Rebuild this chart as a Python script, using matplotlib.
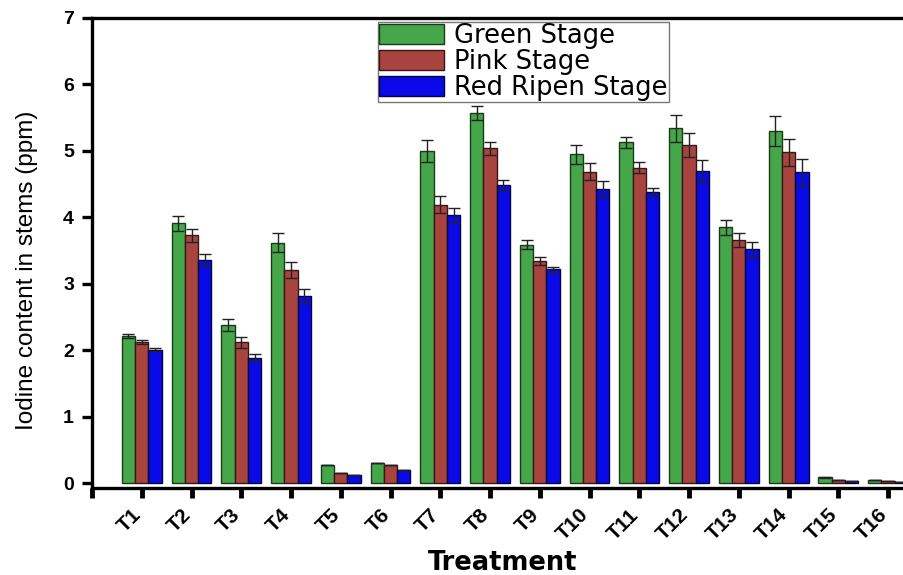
import matplotlib.pyplot as plt
import numpy as np

treatments = ["T%d" % i for i in range(1, 17)]
green = [2.21, 3.91, 2.38, 3.62, 0.27, 0.31, 5.00, 5.57, 3.59, 4.95, 5.13, 5.34, 3.85, 5.30, 0.09, 0.05]
green_err = [0.03, 0.11, 0.09, 0.14, 0.0, 0.0, 0.16, 0.11, 0.07, 0.14, 0.08, 0.20, 0.11, 0.22, 0.01, 0.0]
pink = [2.12, 3.73, 2.12, 3.21, 0.16, 0.27, 4.19, 5.04, 3.35, 4.69, 4.75, 5.09, 3.66, 4.98, 0.05, 0.03]
pink_err = [0.03, 0.10, 0.08, 0.12, 0.0, 0.0, 0.13, 0.10, 0.06, 0.13, 0.08, 0.18, 0.11, 0.20, 0.0, 0.0]
red = [2.01, 3.36, 1.89, 2.82, 0.12, 0.20, 4.03, 4.49, 3.22, 4.43, 4.38, 4.70, 3.52, 4.68, 0.03, 0.02]
red_err = [0.02, 0.09, 0.05, 0.10, 0.0, 0.0, 0.11, 0.07, 0.04, 0.12, 0.06, 0.16, 0.11, 0.20, 0.0, 0.0]

plt.rcParams['font.family'] = ['Liberation Sans', 'DejaVu Sans']

fig = plt.figure(figsize=(9.04, 5.75), dpi=100)
ax = fig.add_axes([92/904, 87/575, 816/904, 470/575])

x = np.arange(1, 17)
w = 0.267
ekw = dict(ecolor='#222222', elinewidth=1.0, capsize=4, capthick=1.0)
ax.bar(x - w, green, w, yerr=green_err, color='#45a64a', edgecolor='#1a3a1a', linewidth=1, error_kw=ekw, label='Green Stage')
ax.bar(x, pink, w, yerr=pink_err, color='#a8443f', edgecolor='#3a1515', linewidth=1, error_kw=ekw, label='Pink Stage')
ax.bar(x + w, red, w, yerr=red_err, color='#0a0ae8', edgecolor='#05053a', linewidth=1, error_kw=ekw, label='Red Ripen Stage')

ax.set_xlim(0, 16.4)
ax.set_ylim(-0.07, 7)
ax.set_xticks(np.arange(0, 17))
ax.set_xticklabels([''] + treatments, rotation=45, ha='right', va='baseline', rotation_mode='anchor',
                   fontsize=15, fontweight='bold', family='Liberation Sans')
ax.set_yticks(range(0, 8))
ax.set_yticklabels([str(v) for v in range(0, 8)], fontsize=14, fontweight='bold',
                   family='Liberation Sans')

for s in ax.spines.values():
    s.set_linewidth(2.4)
ax.tick_params(axis='x', length=7, width=3.5, pad=13)
ax.tick_params(axis='y', length=7, width=2.4, pad=6)

ax.set_xlabel('Treatment', fontsize=18.5, fontweight='bold', family='DejaVu Sans')
ax.xaxis.set_label_coords((503-92)/816, -0.132)
ax.set_ylabel('Iodine content in stems (ppm)', fontsize=17.5, family='Liberation Sans')
ax.yaxis.set_label_coords(-0.066, 0.464)

leg = ax.legend(loc='upper left', bbox_to_anchor=((378-92)/816, 0.992),
                prop={'family': 'DejaVu Sans', 'size': 18.5},
                frameon=True, fancybox=False, edgecolor='#777777', framealpha=1,
                handlelength=2.5, handleheight=0.85, labelspacing=0.0, borderpad=0.05,
                handletextpad=0.4, borderaxespad=0)
leg.get_frame().set_linewidth(1.0)

fig.savefig('out.png', dpi=100)
